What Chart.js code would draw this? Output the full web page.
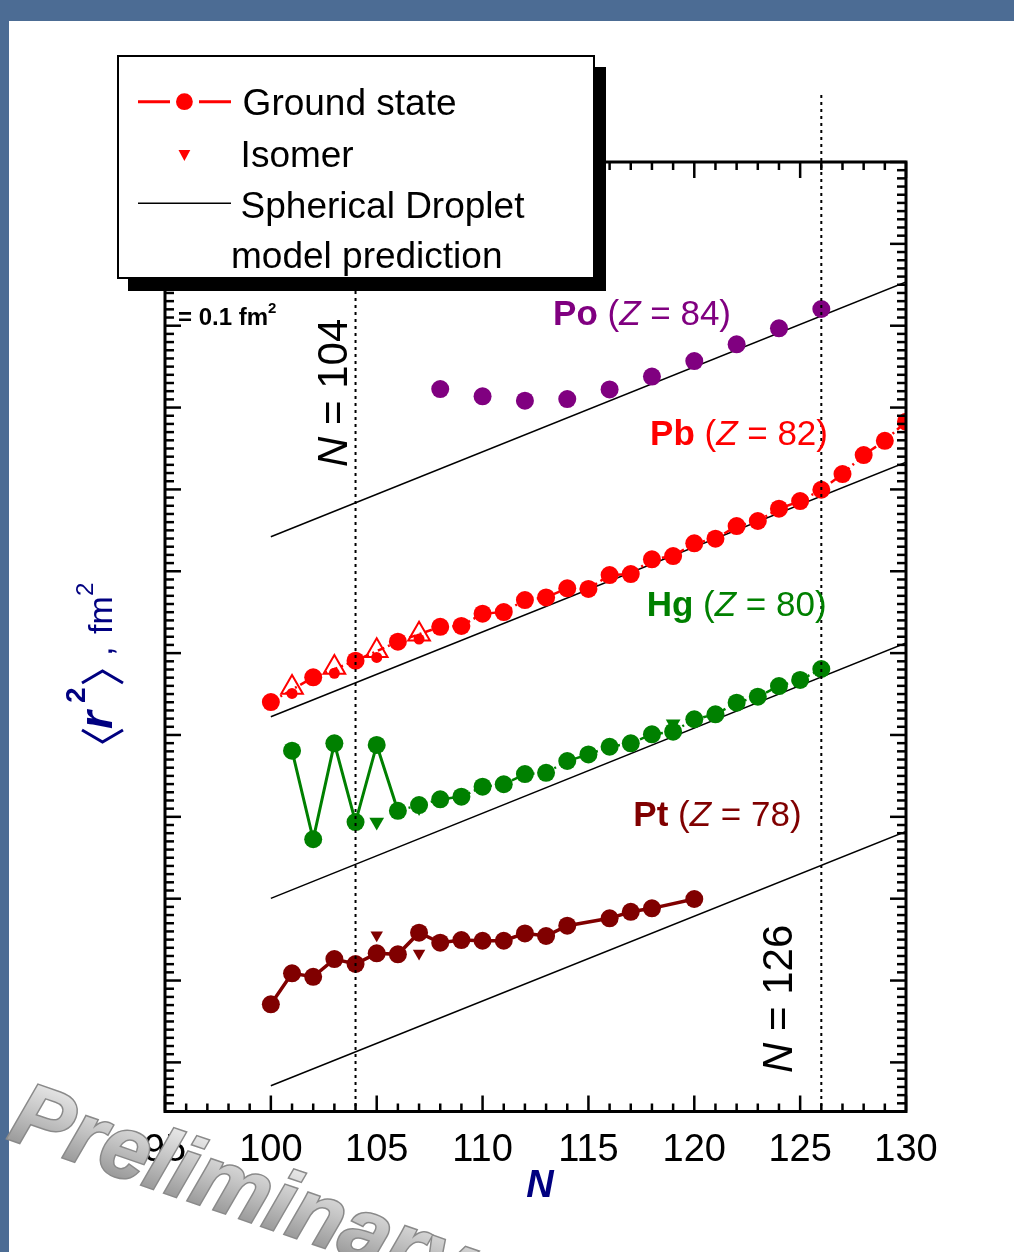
<!DOCTYPE html>
<html>
<head>
<meta charset="utf-8">
<script src="https://cdn.jsdelivr.net/npm/chart.js@4.4.1/dist/chart.umd.min.js"></script>
<style>
  html, body { margin: 0; padding: 0; background: #4c6c94; }
  #wrap { position: relative; width: 1014px; height: 1252px; }
</style>
</head>
<body>
<div id="wrap"><canvas id="radii"></canvas></div>
<script>
// neutron number N and <r^2> (fm^2, offset per element)
const poN = [108, 110, 112, 114, 116, 118, 120, 122, 124, 126];
const poR2 = [4.113, 4.069, 4.042, 4.052, 4.111, 4.189, 4.284, 4.386, 4.484, 4.602];

const pbN = [100, 102, 104, 106, 108, 109, 110, 111, 112, 113, 114, 115, 116, 117, 118, 119, 120, 121, 122, 123, 124, 125, 126, 127, 128, 129, 130];
const pbR2 = [2.201, 2.352, 2.454, 2.570, 2.661, 2.666, 2.741, 2.751, 2.824, 2.840, 2.896, 2.892, 2.977, 2.983, 3.073, 3.093, 3.171, 3.199, 3.276, 3.307, 3.382, 3.429, 3.498, 3.594, 3.710, 3.797, 3.914];
const pbOddN = [101, 103, 105, 107];
const pbOddR2 = [2.254, 2.377, 2.474, 2.586];
const pbOpenN = [101, 103, 105, 107];
const pbOpenR2 = [2.290, 2.412, 2.514, 2.616];

const hgN = [101, 102, 103, 104, 105, 106, 107, 108, 109, 110, 111, 112, 113, 114, 115, 116, 117, 118, 119, 120, 121, 122, 123, 124, 125, 126];
const hgR2 = [1.904, 1.363, 1.949, 1.468, 1.939, 1.537, 1.572, 1.607, 1.623, 1.684, 1.699, 1.761, 1.769, 1.841, 1.881, 1.928, 1.949, 2.004, 2.020, 2.096, 2.126, 2.197, 2.234, 2.299, 2.336, 2.403];
const hgIsoN = [105, 107, 119];
const hgIsoR2 = [1.468, 1.557, 2.068];

const ptN = [100, 101, 102, 103, 104, 105, 106, 107, 108, 109, 110, 111, 112, 113, 114, 116, 117, 118, 120];
const ptR2 = [0.355, 0.544, 0.523, 0.631, 0.601, 0.666, 0.660, 0.792, 0.731, 0.747, 0.743, 0.743, 0.788, 0.772, 0.835, 0.880, 0.920, 0.941, 0.998];
const ptIsoN = [105, 107];
const ptIsoR2 = [0.778, 0.666];

// spherical droplet model, end points
const dropletN = [100, 130];
const dropletPo = [3.211, 4.767];
const dropletPb = [2.111, 3.667];
const dropletHg = [1.002, 2.562];
const dropletPt = [-0.143, 1.411];

const xTickLabels = [95, 100, 105, 110, 115, 120, 125, 130];
const magicN = [104, 126];

const FONT = '"Liberation Sans", Arial, Helvetica, sans-serif';
const NAVY = '#000080';
const COL = { po: '#800080', pb: '#ff0000', hg: '#008000', pt: '#800000' };

const pts = (xs, ys) => xs.map((x, i) => ({ x: x, y: ys[i] }));

function droplet(ys) {
  return {
    data: pts(dropletN, ys), showLine: true, borderColor: '#000', borderWidth: 1.5,
    pointRadius: 0, order: 9
  };
}

// text pieces drawn one after the other
function richText(ctx, x, y, parts) {
  parts.forEach(p => {
    ctx.font = p.font;
    ctx.fillText(p.t, x, y + (p.dy || 0));
    x += ctx.measureText(p.t).width;
  });
}

const decor = {
  id: 'decor',
  beforeDraw(chart) {
    const { ctx, width, height } = chart;
    ctx.save();
    ctx.fillStyle = '#4c6c94';
    ctx.fillRect(0, 0, width, height);
    ctx.fillStyle = '#ffffff';
    ctx.fillRect(9, 21, width - 9, height - 21);
    ctx.restore();
  },
  afterDatasetsDraw(chart) {
    const { ctx, chartArea: a } = chart;
    const x = chart.scales.x, y = chart.scales.y;
    ctx.save();

    // N = 104 and N = 126 dotted lines
    ctx.strokeStyle = '#000';
    ctx.lineWidth = 2;
    ctx.setLineDash([3, 4]);
    magicN.forEach(n => {
      const px = x.getPixelForValue(n);
      ctx.beginPath();
      ctx.moveTo(px, y.getPixelForValue(5.91));
      ctx.lineTo(px, a.bottom);
      ctx.stroke();
    });
    ctx.setLineDash([]);

    // ticks, pointing inward on all four sides
    ctx.lineWidth = 2.5;
    const seg = (x1, y1, x2, y2) => { ctx.beginPath(); ctx.moveTo(x1, y1); ctx.lineTo(x2, y2); ctx.stroke(); };
    for (let n = 95; n <= 130; n++) {
      const px = x.getPixelForValue(n);
      const len = n % 5 === 0 ? 16 : 8;
      seg(px, a.bottom, px, a.bottom - len);
      seg(px, a.top, px, a.top + len);
    }
    for (let k = -6; k <= 110; k++) {
      const py = y.getPixelForValue(k * 0.05);
      const len = k % 10 === 0 ? 16 : 9;
      seg(a.left, py, a.left + len, py);
      seg(a.right, py, a.right - len, py);
    }
    ctx.lineWidth = 3;
    ctx.strokeRect(a.left, a.top, a.right - a.left, a.bottom - a.top);

    // x tick labels
    ctx.fillStyle = '#000';
    ctx.font = '38px ' + FONT;
    ctx.textAlign = 'center';
    xTickLabels.forEach(t => ctx.fillText(String(t), x.getPixelForValue(t), a.bottom + 49));

    // axis titles
    ctx.fillStyle = NAVY;
    ctx.font = 'italic bold 38px ' + FONT;
    ctx.fillText('N', 540, 1197);
    ctx.textAlign = 'left';

    ctx.save();
    ctx.translate(112, 743);
    ctx.rotate(-Math.PI / 2);
    ctx.strokeStyle = NAVY;
    ctx.lineWidth = 3;
    ctx.beginPath(); ctx.moveTo(13, -30); ctx.lineTo(1, -9.5); ctx.lineTo(13, 11); ctx.stroke();
    ctx.font = 'italic bold 46px ' + FONT;
    ctx.fillText('r', 14, 0);
    ctx.font = 'bold 28px ' + FONT;
    ctx.fillText('2', 40, -27);
    ctx.beginPath(); ctx.moveTo(60, -30); ctx.lineTo(72, -9.5); ctx.lineTo(60, 11); ctx.stroke();
    ctx.font = '34px ' + FONT;
    ctx.fillText(',', 87, 0);
    ctx.fillText('fm', 109, 0);
    ctx.font = '24px ' + FONT;
    ctx.fillText('2', 147, -19);
    ctx.restore();

    // element labels
    const labels = [
      { n: 113.33, v: 4.504, c: COL.po, el: 'Po', z: '84' },
      { n: 117.91, v: 3.771, c: COL.pb, el: 'Pb', z: '82' },
      { n: 117.75, v: 2.727, c: COL.hg, el: 'Hg', z: '80' },
      { n: 117.12, v: 1.444, c: COL.pt, el: 'Pt', z: '78' }
    ];
    labels.forEach(l => {
      ctx.fillStyle = l.c;
      richText(ctx, x.getPixelForValue(l.n), y.getPixelForValue(l.v), [
        { t: l.el, font: 'bold 35px ' + FONT },
        { t: ' (', font: '35px ' + FONT },
        { t: 'Z', font: 'italic 35px ' + FONT },
        { t: ' = ' + l.z + ')', font: '35px ' + FONT }
      ]);
    });

    // scale note
    ctx.fillStyle = '#000';
    richText(ctx, 178, 325, [
      { t: '= 0.1 fm', font: 'bold 24px ' + FONT },
      { t: '2', font: 'bold 15px ' + FONT, dy: -12 }
    ]);

    // rotated N = 104 / N = 126
    [[103.6, 3.637, '104'], [124.62, -0.065, '126']].forEach(([n, v, s]) => {
      ctx.save();
      ctx.translate(x.getPixelForValue(n), y.getPixelForValue(v));
      ctx.rotate(-Math.PI / 2);
      ctx.fillStyle = '#000';
      richText(ctx, 0, 0, [
        { t: 'N', font: 'italic 42px ' + FONT },
        { t: ' = ' + s, font: '42px ' + FONT }
      ]);
      ctx.restore();
    });
    ctx.restore();
  },
  afterDraw(chart) {
    const ctx = chart.ctx;
    ctx.save();
    // legend with drop shadow
    ctx.fillStyle = '#000';
    ctx.fillRect(128, 67, 478, 224);
    ctx.fillStyle = '#fff';
    ctx.fillRect(118, 56, 476, 222);
    ctx.strokeStyle = '#000';
    ctx.lineWidth = 2;
    ctx.strokeRect(118, 56, 476, 222);

    ctx.strokeStyle = COL.pb;
    ctx.lineWidth = 3;
    ctx.beginPath();
    ctx.moveTo(138, 101.7); ctx.lineTo(170, 101.7);
    ctx.moveTo(199, 101.7); ctx.lineTo(231, 101.7);
    ctx.stroke();
    ctx.fillStyle = COL.pb;
    ctx.beginPath(); ctx.arc(184.4, 101.7, 8.4, 0, Math.PI * 2); ctx.fill();
    ctx.beginPath(); ctx.moveTo(178.5, 150); ctx.lineTo(190.3, 150); ctx.lineTo(184.4, 161); ctx.closePath(); ctx.fill();

    ctx.strokeStyle = '#000';
    ctx.lineWidth = 1.5;
    ctx.beginPath(); ctx.moveTo(138, 203.3); ctx.lineTo(231, 203.3); ctx.stroke();

    ctx.fillStyle = '#000';
    ctx.font = '37px ' + FONT;
    ctx.fillText('Ground state', 242.6, 115);
    ctx.fillText('Isomer', 240.6, 166.7);
    ctx.fillText('Spherical Droplet', 240.6, 218.3);
    ctx.fillText('model prediction', 231, 268.3);

    // watermark
    ctx.translate(6, 1138);
    ctx.rotate(19 * Math.PI / 180);
    ctx.font = 'italic bold 88px ' + FONT;
    const g = ctx.createLinearGradient(0, -66, 0, 0);
    g.addColorStop(0, '#e8e8e8');
    g.addColorStop(0.5, '#c4c4c4');
    g.addColorStop(1, '#9c9c9c');
    ctx.lineWidth = 3;
    ctx.strokeStyle = '#8a8a8a';
    ctx.strokeText('Preliminary', 0, 0);
    ctx.fillStyle = g;
    ctx.fillText('Preliminary', 0, 0);
    ctx.restore();
  }
};

new Chart(document.getElementById('radii'), {
  type: 'scatter',
  data: {
    datasets: [
      droplet(dropletPo), droplet(dropletPb), droplet(dropletHg), droplet(dropletPt),
      {
        label: 'Po', data: pts(poN, poR2), showLine: false,
        backgroundColor: COL.po, borderWidth: 0, pointRadius: 9, order: 2
      },
      {
        label: 'Pb', data: pts(pbN, pbR2), showLine: true,
        borderColor: COL.pb, borderWidth: 2.5, borderDash: [7, 4, 2, 4],
        backgroundColor: COL.pb, pointBorderWidth: 0, pointRadius: 9, order: 2
      },
      {
        label: 'Pb odd', data: pts(pbOddN, pbOddR2), showLine: false,
        backgroundColor: COL.pb, borderWidth: 0, pointRadius: 5.5, order: 3
      },
      {
        label: 'Pb open', data: pts(pbOpenN, pbOpenR2), showLine: false,
        pointStyle: 'triangle', backgroundColor: 'rgba(255,255,255,0)', borderColor: COL.pb,
        pointBorderWidth: 2, pointRadius: 12.5, order: 4
      },
      {
        label: 'Hg', data: pts(hgN, hgR2), showLine: true,
        borderColor: COL.hg, borderWidth: 3, backgroundColor: COL.hg,
        pointBorderWidth: 0, pointRadius: 9, order: 2,
        segment: {
          borderDash: c => c.p0.parsed.x >= 106 ? [7, 4, 2, 4] : undefined,
          borderWidth: c => c.p0.parsed.x >= 106 ? 2.5 : 3
        }
      },
      {
        label: 'Hg isomer', data: pts(hgIsoN, hgIsoR2), showLine: false,
        pointStyle: 'triangle', rotation: 180, backgroundColor: COL.hg, borderWidth: 0,
        pointRadius: 8.5, order: 5
      },
      {
        label: 'Pt', data: pts(ptN, ptR2), showLine: true,
        borderColor: COL.pt, borderWidth: 3.5, backgroundColor: COL.pt,
        pointBorderWidth: 0, pointRadius: 9, order: 2
      },
      {
        label: 'Pt isomer', data: pts(ptIsoN, ptIsoR2), showLine: false,
        pointStyle: 'triangle', rotation: 180, backgroundColor: COL.pt, borderWidth: 0,
        pointRadius: 7.2, order: 5
      }
    ]
  },
  options: {
    responsive: true,
    maintainAspectRatio: false,
    animation: false,
    devicePixelRatio: 1,
    layout: { padding: { left: 165, right: 108, top: 162, bottom: 140.5 } },
    scales: {
      x: { type: 'linear', min: 95, max: 130, display: false },
      y: { type: 'linear', min: -0.3, max: 5.5, display: false }
    },
    plugins: { legend: { display: false }, tooltip: { enabled: false } }
  },
  plugins: [decor]
});
</script>
</body>
</html>
